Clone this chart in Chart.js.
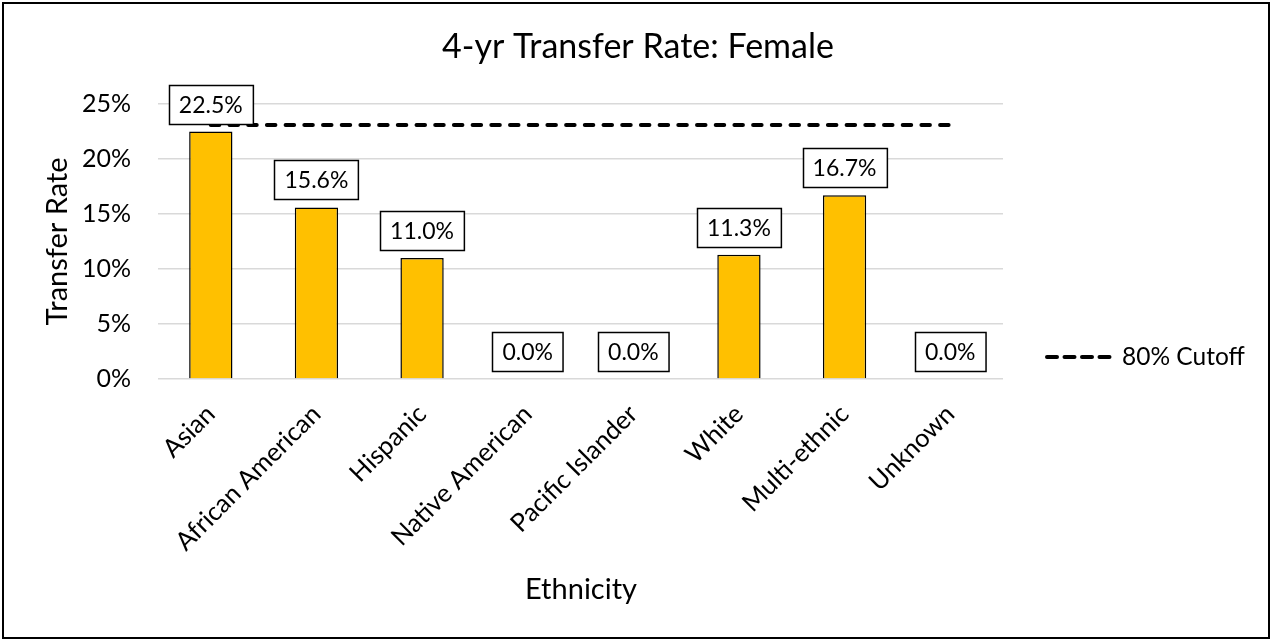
<!DOCTYPE html>
<html>
<head>
<meta charset="utf-8">
<script src="https://cdn.jsdelivr.net/npm/chart.js@4.4.1/dist/chart.umd.min.js"></script>
<style>
  html, body { margin: 0; padding: 0; background: #fff; }
  #wrap { position: absolute; left: 0; top: 0; width: 1272px; height: 640px; }
</style>
</head>
<body>
<div id="wrap"><canvas id="c" width="1272" height="640"></canvas></div>
<script>
const categories = ["Asian", "African American", "Hispanic", "Native American", "Pacific Islander", "White", "Multi-ethnic", "Unknown"];
const transferRate = [22.5, 15.6, 11.0, 0.0, 0.0, 11.3, 16.7, 0.0];
const cutoff = [23.1, 23.1, 23.1, 23.1, 23.1, 23.1, 23.1, 23.1];
const yTicks = [0, 5, 10, 15, 20, 25];
const chartTitle = "4-yr Transfer Rate: Female";
const xTitle = "Ethnicity";
const yTitle = "Transfer Rate";
const legendLabel = "80% Cutoff";

const FONT = "Lato, 'Open Sans', sans-serif";

const decorPlugin = {
  id: 'decor',
  beforeDraw(chart) {
    const ctx = chart.ctx;
    ctx.save();
    ctx.fillStyle = '#fff';
    ctx.fillRect(0, 0, chart.width, chart.height);
    ctx.restore();
  },
  afterDraw(chart) {
    const ctx = chart.ctx;
    const area = chart.chartArea;
    ctx.save();
    // outer border
    ctx.strokeStyle = '#000';
    ctx.lineWidth = 2;
    ctx.strokeRect(3, 3, 1266, 635);
    // title
    ctx.fillStyle = '#000';
    ctx.font = "34px " + FONT;
    ctx.textAlign = 'center';
    ctx.textBaseline = 'middle';
    ctx.fillText(chartTitle, 638, 47);
    // x title
    ctx.font = "29px " + FONT;
    ctx.fillText(xTitle, 581, 590);
    // y title
    ctx.save();
    ctx.translate(58, (area.top + area.bottom) / 2);
    ctx.rotate(-Math.PI / 2);
    ctx.fillText(yTitle, 0, 0);
    ctx.restore();
    // legend
    ctx.strokeStyle = '#000';
    ctx.lineWidth = 4;
    ctx.lineCap = 'round';
    ctx.setLineDash([10, 7.5]);
    ctx.beginPath();
    ctx.moveTo(1047, 357);
    ctx.lineTo(1110, 357);
    ctx.stroke();
    ctx.setLineDash([]);
    ctx.font = "24.5px " + FONT;
    ctx.textAlign = 'left';
    ctx.fillText(legendLabel, 1122, 357);
    // data labels
    const meta = chart.getDatasetMeta(0);
    ctx.font = "23px " + FONT;
    ctx.textAlign = 'center';
    ctx.textBaseline = 'middle';
    meta.data.forEach((el, i) => {
      const txt = transferRate[i].toFixed(1) + '%';
      const w = ctx.measureText(txt).width + 20;
      const h = 39;
      const bottom = el.y - 8;
      const x0 = Math.round(el.x - w / 2) + 0.5;
      const y0 = Math.round(bottom - h) + 0.5;
      ctx.fillStyle = '#fff';
      ctx.fillRect(x0, y0, w, h);
      ctx.strokeStyle = '#000';
      ctx.lineWidth = 1.5;
      ctx.strokeRect(x0, y0, w, h);
      ctx.fillStyle = '#000';
      ctx.fillText(txt, el.x, y0 + h / 2 + 1);
    });
    ctx.restore();
  }
};

new Chart(document.getElementById('c'), {
  data: {
    labels: categories,
    datasets: [
      {
        type: 'bar',
        label: 'Transfer Rate',
        data: transferRate,
        backgroundColor: '#FFC000',
        borderColor: '#000',
        borderWidth: 1.5,
        barPercentage: 0.41,
        categoryPercentage: 1.0,
        order: 2
      },
      {
        type: 'line',
        label: legendLabel,
        data: cutoff,
        borderColor: '#000',
        borderWidth: 4,
        borderDash: [8.5, 10.2],
        borderCapStyle: 'round',
        pointRadius: 0,
        fill: false,
        order: 1
      }
    ]
  },
  options: {
    responsive: false,
    animation: false,
    devicePixelRatio: 1,
    layout: { padding: { top: 104, right: 269, bottom: 0, left: 0 } },
    plugins: {
      legend: { display: false },
      title: { display: false },
      tooltip: { enabled: false }
    },
    scales: {
      x: {
        grid: { display: false },
        border: { display: false },
        ticks: {
          autoSkip: false,
          maxRotation: 45,
          minRotation: 45,
          padding: 12,
          color: '#000',
          font: { family: FONT, size: 25.5 }
        },
        afterFit(scale) { scale.height = 261; }
      },
      y: {
        min: 0,
        max: 25,
        afterBuildTicks(scale) { scale.ticks = yTicks.map(v => ({ value: v })); },
        grid: { color: '#d9d9d9', lineWidth: 1.5, drawTicks: false },
        border: { display: false },
        ticks: {
          padding: 27,
          color: '#000',
          font: { family: FONT, size: 25 },
          callback: (v) => v + '%'
        },
        afterFit(scale) { scale.width = 158; }
      }
    }
  },
  plugins: [decorPlugin]
});
</script>
</body>
</html>
